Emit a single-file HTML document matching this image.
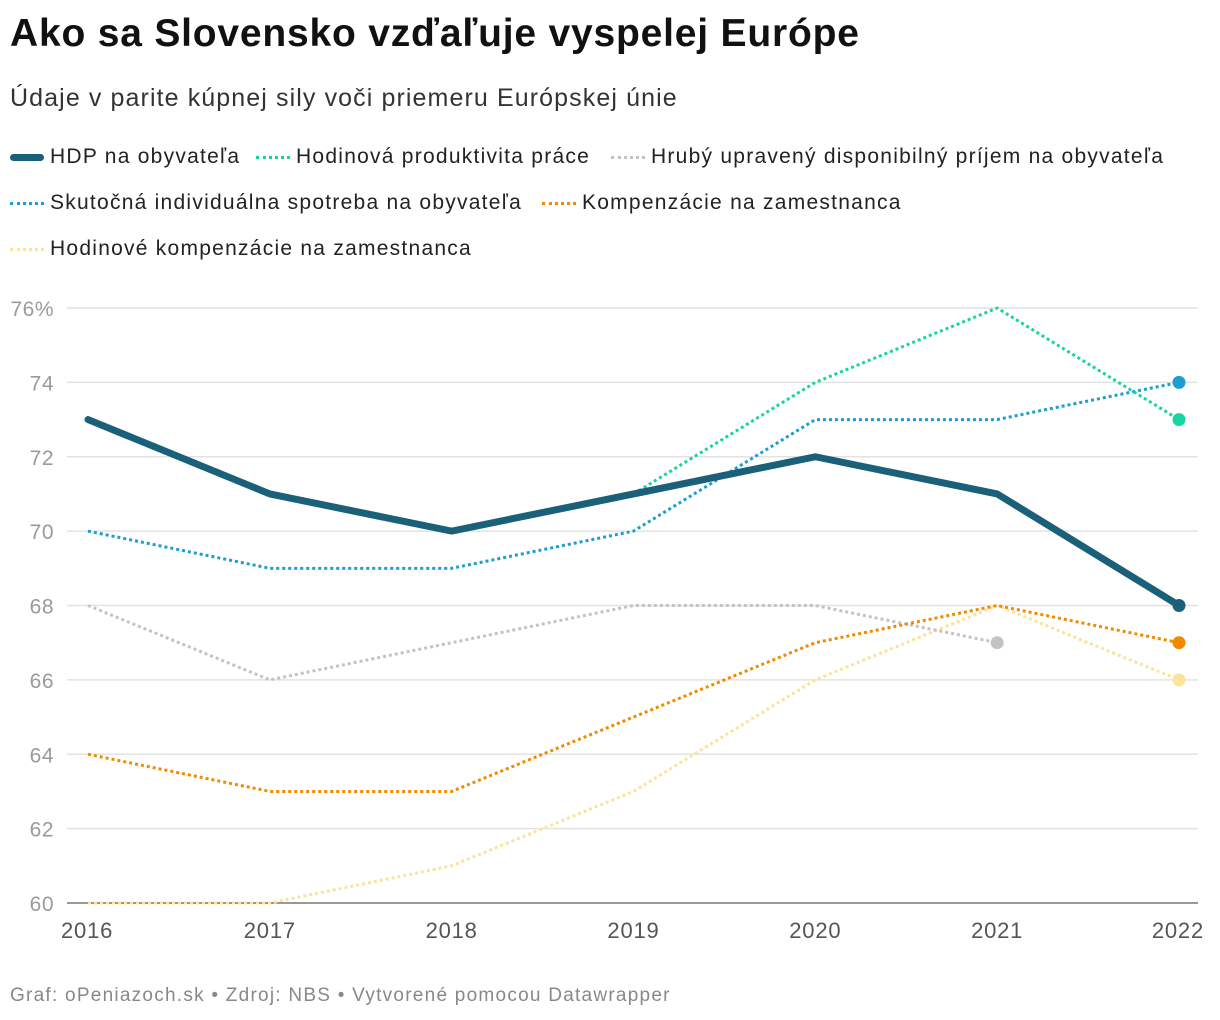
<!DOCTYPE html>
<html><head><meta charset="utf-8">
<style>
body{margin:0;width:1220px;height:1020px;background:#fff;font-family:"Liberation Sans",sans-serif;overflow:hidden}
#title{position:absolute;left:10px;top:12px;font-size:39px;font-weight:bold;color:#111;letter-spacing:0.8px}
#sub{position:absolute;left:10px;top:84px;font-size:25px;color:#333;letter-spacing:1.1px}
.leg{position:absolute;font-size:21px;color:#222;display:flex;align-items:center;letter-spacing:1.25px}
.sw{width:34px;height:0;margin-right:6px}
#foot{position:absolute;left:10px;top:985px;font-size:19px;color:#888;letter-spacing:1.25px}
svg{position:absolute;left:0;top:0}
</style></head><body>
<div id="title">Ako sa Slovensko vzďaľuje vyspelej Európe</div>
<div id="sub">Údaje v parite kúpnej sily voči priemeru Európskej únie</div>
<div class="leg" style="left:10px;top:145px"><span class="sw" style="border-top:7px solid #1a6079;border-radius:4px"></span>HDP na obyvateľa</div>
<div class="leg" style="left:256px;top:145px"><span class="sw" style="border-top:3px dotted #17d4a0"></span>Hodinová produktivita práce</div>
<div class="leg" style="left:611px;top:145px"><span class="sw" style="border-top:3px dotted #c3c3c3"></span>Hrubý upravený disponibilný príjem na obyvateľa</div>
<div class="leg" style="left:10px;top:191px"><span class="sw" style="border-top:3px dotted #1a9fd0"></span>Skutočná individuálna spotreba na obyvateľa</div>
<div class="leg" style="left:542px;top:191px"><span class="sw" style="border-top:3px dotted #f28a00"></span>Kompenzácie na zamestnanca</div>
<div class="leg" style="left:10px;top:237px"><span class="sw" style="border-top:3px dotted #fde29a"></span>Hodinové kompenzácie na zamestnanca</div>
<svg id="chart" width="1220" height="1020"></svg>
<div id="foot">Graf: oPeniazoch.sk • Zdroj: NBS • Vytvorené pomocou Datawrapper</div>
<script>
const years=[2016,2017,2018,2019,2020,2021,2022];
const yTicks=[60,62,64,66,68,70,72,74,76];
const hdp=[73,71,70,71,72,71,68];
const productivity=[null,null,null,71,74,76,73];
const income=[68,66,67,68,68,67,null];
const consumption=[70,69,69,70,73,73,74];
const compensation=[64,63,63,65,67,68,67];
const hourlyComp=[60,60,61,63,66,68,66];
const NS='http://www.w3.org/2000/svg';
const svg=document.getElementById('chart');
const x=i=>88+i*(1179-88)/6;
const y=v=>903-(v-60)*(903-308)/16;
function el(t,a){const e=document.createElementNS(NS,t);for(const k in a)e.setAttribute(k,a[k]);svg.appendChild(e);return e;}
yTicks.forEach(v=>{
  const g=el('line',{x1:67,x2:1198,y1:y(v),y2:y(v),stroke:v===60?'#333':'#e2e2e2','stroke-width':v===60?1:1.5});
  
  
  const t=el('text',{x:54,y:y(v)+8,'text-anchor':'end','font-size':21,fill:'#9a9a9a','font-family':'Liberation Sans','letter-spacing':0.5});
  t.textContent=v===76?'76%':v;
  
  
});
years.forEach((yr,i)=>{
  const anchor=i===0?'start':(i===6?'end':'middle');
  const xx=i===0?61:(i===6?1204:x(i));
  const t=el('text',{x:xx,y:938,'text-anchor':anchor,'font-size':22,fill:'#555','font-family':'Liberation Sans','letter-spacing':0.8});
  t.textContent=yr;
  
  
});
function series(arr,color,w,dash,name){
  let d='';arr.forEach((v,i)=>{if(v==null)return;d+=(d?'L':'M')+x(i)+','+y(v);});
  const p=el('path',{d,fill:'none',stroke:color,'stroke-width':w,'stroke-dasharray':dash||'none','stroke-linejoin':'round','stroke-linecap':dash?'butt':'round'});
  
  
  let li=-1;arr.forEach((v,i)=>{if(v!=null)li=i;});
  const c=el('circle',{cx:x(li),cy:y(arr[li]),r:6.5,fill:color});
  
  
}
series(hourlyComp,'#fde29a',3,'3 3','hourly-compensation');
series(income,'#c3c3c3',3,'3 3','income');
series(compensation,'#f28a00',3,'3 3','compensation');
series(consumption,'#1a9fd0',3,'3 3','consumption');
series(productivity,'#17d4a0',3,'3 3','productivity');
series(hdp,'#1a6079',7,null,'hdp');
</script>
</body></html>
